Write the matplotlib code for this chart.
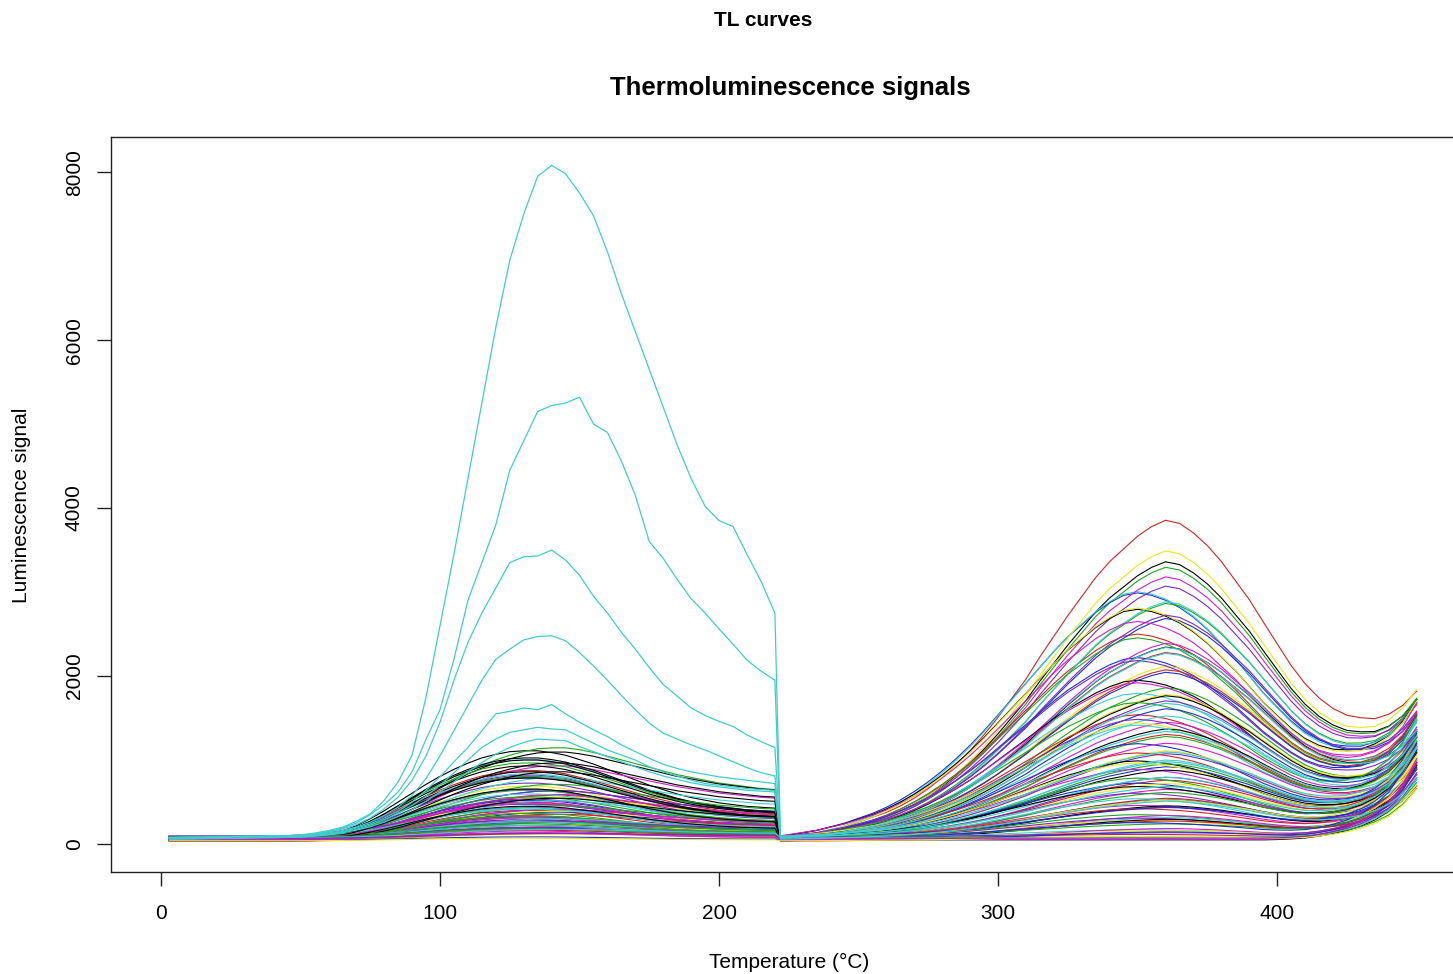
import numpy as np
import matplotlib.pyplot as plt

plt.rcParams['font.family'] = ['Liberation Sans', 'DejaVu Sans']

# ------------------------------------------------------------
# temperature grids (deg C): first read-out up to 220, second from 222
# ------------------------------------------------------------
TEMP_A = [3, 10, 15, 20, 25, 30, 35, 40, 45, 50,
          55, 60, 65, 70, 75, 80, 85, 90, 95, 100,
          105, 110, 115, 120, 125, 130, 135, 140, 145, 150,
          155, 160, 165, 170, 175, 180, 185, 190, 195, 200,
          205, 210, 215, 220]
TEMP_B = [222, 225, 230, 235, 240, 245, 250, 255, 260, 265,
          270, 275, 280, 285, 290, 295, 300, 305, 310, 315,
          320, 325, 330, 335, 340, 345, 350, 355, 360, 365,
          370, 375, 380, 385, 390, 395, 400, 405, 410, 415,
          420, 425, 430, 435, 440, 445, 450]

# strong cyan curves, first part
CYAN_1 = [80, 85, 85, 90, 90, 95, 95, 100, 100, 110,
          130, 160, 200, 270, 360, 520, 740, 1060, 1750, 2600,
          3450, 4350, 5250, 6150, 6950, 7500, 7950, 8080, 7980, 7750,
          7480, 7050, 6550, 6100, 5650, 5200, 4750, 4350, 4020, 3850,
          3780, 3450, 3130, 2750]
CYAN_2 = [75, 80, 80, 85, 85, 90, 90, 95, 95, 105,
          120, 150, 190, 250, 350, 470, 620, 860, 1250, 1600,
          2200, 2900, 3350, 3800, 4450, 4800, 5150, 5220, 5250, 5320,
          5000, 4900, 4560, 4150, 3600, 3400, 3150, 2920, 2750, 2560,
          2380, 2190, 2060, 1950]
CYAN_3 = [70, 75, 75, 80, 80, 85, 85, 90, 90, 100,
          115, 140, 180, 230, 310, 420, 560, 760, 1050, 1450,
          1950, 2400, 2750, 3050, 3350, 3420, 3430, 3500, 3380, 3200,
          2950, 2750, 2520, 2320, 2100, 1900, 1760, 1620, 1530, 1460,
          1400, 1300, 1220, 1150]
CYAN_4 = [70, 70, 75, 75, 80, 80, 85, 85, 90, 95,
          110, 130, 160, 200, 260, 340, 440, 580, 780, 1050,
          1350, 1650, 1950, 2200, 2320, 2430, 2470, 2480, 2420, 2280,
          2120, 1950, 1770, 1600, 1440, 1320, 1250, 1180, 1120, 1050,
          980, 910, 850, 810]
CYAN_5 = [65, 70, 70, 75, 75, 80, 80, 85, 85, 90,
          105, 120, 150, 190, 240, 310, 390, 500, 640, 800,
          980, 1150, 1350, 1550, 1580, 1620, 1600, 1660, 1550, 1450,
          1360, 1280, 1180, 1100, 1020, 950, 900, 860, 830, 800,
          780, 760, 740, 720]
CYAN_6 = [60, 65, 65, 70, 70, 75, 75, 80, 80, 85,
          100, 115, 140, 175, 225, 290, 370, 460, 570, 700,
          850, 1000, 1150, 1250, 1330, 1360, 1390, 1370, 1360, 1280,
          1200, 1120, 1060, 1000, 920, 860, 810, 760, 720, 700,
          680, 660, 650, 640]
CYAN_7 = [60, 60, 65, 65, 70, 70, 75, 75, 80, 85,
          95, 110, 135, 165, 205, 260, 330, 410, 510, 620,
          740, 860, 970, 1070, 1150, 1210, 1250, 1240, 1230, 1160,
          1100, 1040, 980, 920, 860, 810, 770, 730, 700, 680,
          660, 640, 630, 620]
CYAN_FIRST = [CYAN_1, CYAN_2, CYAN_3, CYAN_4, CYAN_5, CYAN_6, CYAN_7]
CYAN_HIGH = [1250, 900, 2200, 600, 1600, 450, 1000]
CYAN_END = [700, 800, 650, 900, 750, 600, 850]
CYAN_BASE = [90, 80, 70, 85, 75, 60, 95]

# normalised glow-peak profiles
LOW_SHAPE_A = [0, 0, 0, 0, 0, 0, 0, 0, 0, 0.01,
               0.02, 0.05, 0.09, 0.15, 0.23, 0.32, 0.42, 0.52, 0.62, 0.71,
               0.79, 0.86, 0.92, 0.96, 0.99, 1.0, 1.0, 0.98, 0.95, 0.9,
               0.85, 0.79, 0.73, 0.67, 0.61, 0.56, 0.51, 0.47, 0.44, 0.41,
               0.39, 0.37, 0.36, 0.35]
LOW_SHAPE_B = [0, 0, 0, 0, 0, 0, 0, 0, 0, 0.005,
               0.01, 0.03, 0.06, 0.1, 0.15, 0.22, 0.3, 0.39, 0.48, 0.57,
               0.66, 0.74, 0.81, 0.87, 0.92, 0.96, 0.99, 1.0, 1.0, 0.98,
               0.95, 0.91, 0.87, 0.83, 0.79, 0.75, 0.71, 0.68, 0.65, 0.62,
               0.6, 0.58, 0.56, 0.55]
HIGH_SHAPE_A = [0, 0, 0.01, 0.015, 0.025, 0.035, 0.05, 0.065, 0.08, 0.1,
                0.125, 0.155, 0.19, 0.23, 0.275, 0.325, 0.38, 0.44, 0.5, 0.57,
                0.635, 0.7, 0.76, 0.82, 0.87, 0.91, 0.95, 0.98, 1.0, 0.99,
                0.96, 0.92, 0.87, 0.81, 0.75, 0.68, 0.61, 0.54, 0.48, 0.43,
                0.39, 0.36, 0.34, 0.32, 0.31, 0.3, 0.29]
HIGH_SHAPE_B = [0, 0.005, 0.015, 0.025, 0.04, 0.055, 0.075, 0.095, 0.12, 0.15,
                0.185, 0.225, 0.27, 0.32, 0.375, 0.435, 0.5, 0.565, 0.63, 0.695,
                0.76, 0.82, 0.87, 0.92, 0.96, 0.99, 1.0, 0.99, 0.97, 0.94,
                0.9, 0.85, 0.79, 0.73, 0.66, 0.59, 0.53, 0.47, 0.42, 0.38,
                0.35, 0.33, 0.31, 0.3, 0.29, 0.28, 0.27]
INCAND_SHAPE = [0] * 36 + [0.005, 0.015, 0.03, 0.06, 0.1, 0.15, 0.22, 0.32, 0.46, 0.68, 1.0]

# remaining aliquots: peak heights, baseline and end-of-run glow
LOW_AMP = [1050, 800, 1100, 700, 950, 850, 650, 750,
           1000, 600, 900, 550, 800, 700, 500, 650,
           980, 500, 750, 450, 700, 600, 420, 550,
           950, 420, 650, 380, 600, 520, 350, 480,
           900, 360, 560, 320, 520, 450, 300, 400,
           860, 300, 480, 270, 450, 380, 250, 340,
           820, 250, 400, 220, 380, 320, 200, 280,
           780, 200, 330, 180, 320, 260, 160, 230,
           700, 160, 270, 140, 260, 210, 120, 180,
           600, 120, 210, 100, 200, 160, 90, 140,
           500, 90, 150, 70, 150, 120, 60, 100,
           400, 60, 100, 40, 100, 80, 30, 60]
HIGH_AMP = [3300, 3780, 3250, 2900, 2950, 3100, 3450, 3000,
            2700, 2450, 2800, 2600, 2850, 2550, 2750, 2650,
            2300, 2200, 2400, 2150, 2250, 2350, 2050, 2100,
            1900, 2000, 1800, 1950, 1750, 1850, 1700, 1650,
            1700, 1500, 1600, 1550, 1450, 1400, 1350, 1450,
            1300, 1250, 1200, 1150, 1350, 1100, 1050, 1000,
            950, 1000, 900, 850, 950, 800, 900, 750,
            800, 700, 750, 650, 700, 600, 650, 550,
            600, 500, 550, 450, 500, 400, 450, 350,
            400, 350, 300, 350, 250, 300, 200, 250,
            250, 200, 150, 200, 100, 150, 100, 50,
            0, 50, 0, 100, 0, 0, 50, 0]
BASE = [60, 75, 45, 90, 55, 80, 40, 70,
        95, 50, 65, 85, 35, 100, 60, 75,
        45, 80, 55, 70, 90, 40, 65, 85,
        50, 75, 60, 95, 45, 70, 80, 55,
        65, 40, 85, 60, 75, 50, 90, 35,
        70, 55, 80, 45, 65, 100, 60, 75,
        40, 85, 55, 70, 50, 90, 65, 45,
        80, 60, 35, 75, 95, 50, 70, 55,
        85, 45, 65, 80, 40, 60, 75, 90,
        55, 70, 50, 85, 65, 40, 80, 60,
        45, 75, 90, 55, 70, 35, 60, 85,
        50, 65, 80, 45, 75, 55, 40, 70]
END_AMP = [700, 650, 750, 800, 720, 680, 800, 780,
           900, 760, 850, 700, 820, 780, 900, 740,
           650, 820, 760, 880, 700, 960, 820, 690,
           780, 900, 640, 820, 980, 700, 760, 860,
           720, 820, 1000, 760, 660, 880, 780, 940,
           850, 720, 900, 780, 1050, 680, 820, 760,
           900, 620, 840, 1000, 760, 880, 700, 820,
           780, 960, 700, 860, 640, 920, 800, 740,
           880, 700, 1050, 760, 820, 660, 940, 780,
           720, 860, 600, 980, 780, 700, 900, 640,
           820, 560, 760, 1100, 680, 880, 620, 800,
           740, 900, 580, 840, 700, 960, 600, 780]

PALETTE = ['#000000', '#CD2626', '#1FA81F', '#1E2FD0',
           '#3CCFCF', '#D21FC8', '#E8E81A', '#7A2CC0']
CYAN_COLOR = '#40CCCC'

# ------------------------------------------------------------
# plot
# ------------------------------------------------------------
fig = plt.figure(figsize=(14.53, 9.74), dpi=100)
ax = fig.add_axes([0.0764, 0.1047, 0.9332, 0.7546])

temp = np.array(TEMP_A + TEMP_B, dtype=float)
incand = np.array(INCAND_SHAPE)

for i in range(len(HIGH_AMP)):
    low_shape = np.array(LOW_SHAPE_B if i % 3 == 2 else LOW_SHAPE_A)
    high_shape = np.array(HIGH_SHAPE_B if i % 5 in (3, 4) else HIGH_SHAPE_A)
    seg_a = BASE[i] + LOW_AMP[i] * low_shape
    seg_b = BASE[i] + HIGH_AMP[i] * high_shape + END_AMP[i] * incand
    ax.plot(temp, np.concatenate([seg_a, seg_b]), color=PALETTE[i % 8], lw=0.8)

for k, first in enumerate(CYAN_FIRST):
    seg_b = CYAN_BASE[k] + CYAN_HIGH[k] * np.array(HIGH_SHAPE_A) + CYAN_END[k] * incand
    ax.plot(temp, np.concatenate([np.array(first, dtype=float), seg_b]),
            color=CYAN_COLOR, lw=0.9)

ax.set_xlim(-17.9, 468)
ax.set_ylim(-333, 8417)
ax.set_xticks([0, 100, 200, 300, 400])
ax.set_yticks([0, 2000, 4000, 6000, 8000])
ax.tick_params(length=10, width=1, labelsize=15, color='#222222')
ax.tick_params(axis='x', pad=13)
ax.tick_params(axis='y', pad=9.5)
plt.setp(ax.get_yticklabels(), rotation=90, va='center')
for sp in ax.spines.values():
    sp.set_linewidth(1)
    sp.set_color('#222222')

fig.text(790 / 1453, 1 - 88 / 974, 'Thermoluminescence signals',
         ha='center', va='center', fontsize=18.5, fontweight='bold')
fig.text(763 / 1453, 1 - 21 / 974, 'TL curves',
         ha='center', va='center', fontsize=15, fontweight='bold')
fig.text(789 / 1453, 1 - 962 / 974, 'Temperature (\u00b0C)',
         ha='center', va='center', fontsize=15)
fig.text(22 / 1453, 1 - 505 / 974, 'Luminescence signal',
         ha='center', va='center', fontsize=15, rotation=90)

fig.savefig('out.png', dpi=100)
